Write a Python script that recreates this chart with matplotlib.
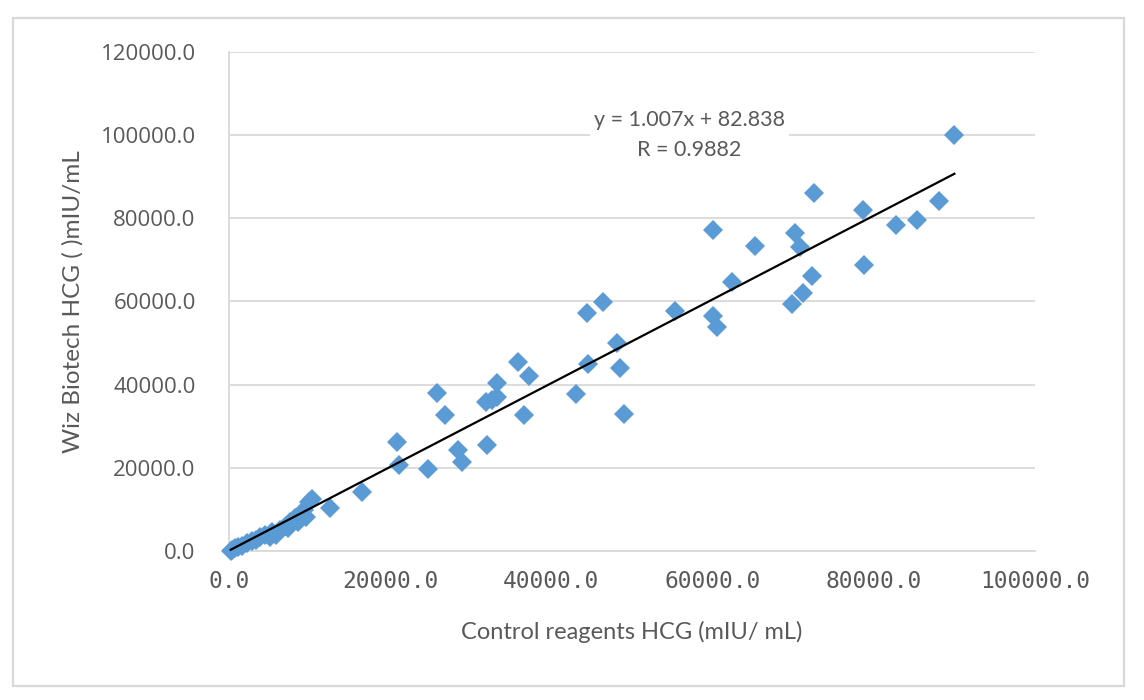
# -*- coding: utf-8 -*-
"""Nuage de points Wiz Biotech HCG vs réactifs de contrôle, avec droite de régression."""

import numpy as np
import matplotlib
matplotlib.use("Agg")
import matplotlib.pyplot as plt
from matplotlib.patches import Rectangle

# Données (mIU/mL)
control_hcg = [90000, 88100, 85300, 82800, 78600, 78800, 72600, 70200, 70800, 72300,
               71200, 69900, 65300, 62400, 60100, 60100, 60600, 55300,
               46400, 44400, 48200, 48500, 49000, 44600, 43000, 35800, 37200, 25800,
               26800, 20900, 21100, 24700, 28400, 28900, 32000, 31900, 33300, 33300,
               32600, 36600,
               16500, 12500, 10300, 9900, 9300, 9500, 8800, 8500, 8200, 7600,
               7300, 7100, 6300, 5800, 5300, 5100, 4500, 3800, 3300, 2900,
               2200, 1600, 1100, 700, 400, 200]
wiz_hcg = [100000, 84100, 79600, 78400, 82000, 68800, 86000, 76400, 73100, 66100,
           62000, 59400, 73300, 64700, 77200, 56500, 53800, 57700,
           59900, 57200, 50000, 44000, 32900, 45000, 37700, 45400, 42100, 38000,
           32700, 26200, 20700, 19700, 24300, 21400, 25500, 35800, 40400, 37000,
           36300, 32700,
           14200, 10300, 12500, 11800, 9800, 8200, 8600, 7000, 7900, 7000,
           5500, 6000, 5000, 3900, 4600, 3400, 3800, 3400, 2600, 2500,
           2000, 1300, 1000, 800, 300, 100]

slope = 1.007
intercept = 82.838
r_value = 0.9882

x_ticks = [0, 20000, 40000, 60000, 80000, 100000]
y_ticks = [0, 20000, 40000, 60000, 80000, 100000, 120000]

gris_texte = "#595959"
gris_grille = "#d9d9d9"
bleu = "#5b9bd5"

fig = plt.figure(figsize=(11.44, 7.0), dpi=100)
ax = fig.add_axes([0.2002, 0.2129, 0.7045, 0.7128])

# Cadre extérieur du graphique
fig.patches.append(Rectangle((0.0114, 0.02), 0.9712, 0.9543, transform=fig.transFigure,
                             fill=False, edgecolor=gris_grille, linewidth=1.6))

# Points
ax.plot(control_hcg, wiz_hcg, linestyle="none", marker="D", markersize=10,
        color=bleu, markeredgewidth=0, zorder=3, clip_on=False)

# Droite de régression
xs = np.array([min(control_hcg), max(control_hcg)])
ax.plot(xs, slope * xs + intercept, color="black", linewidth=1.6, zorder=4)

ax.text(0.571, 0.834, "y = {:.3f}x + {:.3f}\nR = {:.4f}".format(slope, intercept, r_value),
        transform=ax.transAxes, ha="center", va="center", fontsize=15.5,
        family="Lato", color=gris_texte, linespacing=1.65, zorder=5,
        bbox=dict(facecolor="white", edgecolor="none", pad=3))

ax.set_xlim(0, 100000)
ax.set_ylim(0, 120000)
ax.set_xticks(x_ticks)
ax.set_yticks(y_ticks)
ax.set_xticklabels(["{:.1f}".format(v) for v in x_ticks], family="DejaVu Sans Mono",
                   fontsize=16.5, color=gris_texte)
ax.set_yticklabels(["{:.1f}".format(v) for v in y_ticks], family="Open Sans",
                   fontsize=16, color=gris_texte)
ax.tick_params(axis="both", length=0)
ax.tick_params(axis="x", pad=14)
ax.tick_params(axis="y", pad=24)

ax.grid(axis="y", color=gris_grille, linewidth=1.3)
ax.set_axisbelow(True)
for side in ["top", "right"]:
    ax.spines[side].set_visible(False)
for side in ["left", "bottom"]:
    ax.spines[side].set_color(gris_grille)
    ax.spines[side].set_linewidth(1.3)

fig.text(0.5525, 0.097, "Control reagents HCG (mIU/ mL)", ha="center", va="center",
         fontsize=17, family="Lato", color=gris_texte)
fig.text(0.064, 0.569, "Wiz Biotech HCG ( )mIU/mL", ha="center", va="center",
         rotation=90, fontsize=17.5, family="Lato", color=gris_texte)

fig.savefig("out.png", dpi=100)
